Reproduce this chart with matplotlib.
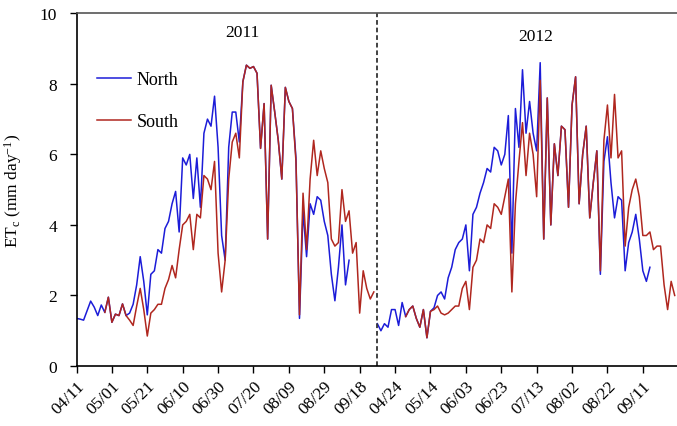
import matplotlib
matplotlib.use("Agg")
import matplotlib.pyplot as plt
import numpy as np

# daily ETc read every 2nd day, positions are days counted from 04/11/2011
step = 2
season_break = 169.6

north_2011_start = 0
north_2011 = [1.35, 1.33, 1.30, 1.57, 1.84, 1.67, 1.43, 1.73, 1.52, 1.95,
              1.24, 1.47, 1.43, 1.76, 1.43, 1.50, 1.75, 2.30, 3.10, 2.40,
              1.45, 2.60, 2.70, 3.30, 3.20, 3.90, 4.10, 4.60, 4.95, 3.80,
              5.90, 5.70, 6.00, 4.75, 5.90, 4.50, 6.60, 7.00, 6.80, 7.65,
              6.20, 3.70, 3.00, 6.20, 7.20, 7.20, 6.35, 8.06, 8.53, 8.44,
              8.49, 8.30, 6.17, 7.44, 3.60, 7.96, 7.20, 6.40, 5.30, 7.90,
              7.50, 7.30, 5.90, 1.35, 4.40, 3.10, 4.60, 4.30, 4.80, 4.70,
              4.10, 3.70, 2.60, 1.85, 2.80, 4.00, 2.30, 3.00]

south_2011_start = 16
south_2011 = [1.52, 1.95, 1.24, 1.47, 1.43, 1.76, 1.43, 1.30, 1.15, 1.70,
              2.20, 1.60, 0.85, 1.50, 1.60, 1.75, 1.75, 2.20, 2.45, 2.85,
              2.50, 3.30, 4.00, 4.10, 4.30, 3.30, 4.30, 4.20, 5.40, 5.30,
              5.00, 5.80, 3.20, 2.10, 3.00, 5.30, 6.35, 6.60, 5.90, 8.06,
              8.53, 8.44, 8.49, 8.30, 6.17, 7.44, 3.60, 7.96, 7.20, 6.40,
              5.30, 7.90, 7.50, 7.30, 5.80, 1.45, 4.90, 3.30, 5.30, 6.40,
              5.40, 6.10, 5.60, 5.20, 3.60, 3.40, 3.50, 5.00, 4.10, 4.40,
              3.20, 3.50, 1.50, 2.70, 2.20, 1.90, 2.10]

north_2012_start = 170
north_2012 = [1.20, 1.00, 1.20, 1.10, 1.60, 1.60, 1.15, 1.80, 1.40, 1.60,
              1.70, 1.35, 1.10, 1.60, 0.80, 1.55, 1.65, 2.00, 2.10, 1.90,
              2.50, 2.80, 3.30, 3.50, 3.60, 4.00, 2.70, 4.30, 4.50, 4.90,
              5.20, 5.60, 5.50, 6.20, 6.10, 5.70, 6.00, 7.10, 3.20, 7.30,
              6.20, 8.40, 6.60, 7.50, 6.60, 6.10, 8.60, 3.60, 7.60, 4.00,
              6.30, 5.40, 6.80, 6.70, 4.50, 7.40, 8.20, 4.60, 6.00, 6.80,
              4.20, 5.20, 6.10, 2.60, 5.80, 6.50, 5.20, 4.20, 4.80, 4.70,
              2.70, 3.50, 3.80, 4.30, 3.60, 2.70, 2.40, 2.80]

south_2012_start = 186
south_2012 = [1.40, 1.60, 1.70, 1.35, 1.10, 1.60, 0.80, 1.55, 1.60, 1.70,
              1.50, 1.45, 1.50, 1.60, 1.70, 1.70, 2.20, 2.40, 1.60, 2.80,
              3.00, 3.60, 3.50, 4.00, 3.90, 4.60, 4.50, 4.30, 4.80, 5.30,
              2.10, 4.60, 5.80, 6.90, 5.40, 6.60, 6.00, 4.80, 8.10, 3.60,
              7.60, 4.00, 6.30, 5.40, 6.80, 6.70, 4.50, 7.40, 8.20, 4.60,
              6.00, 6.80, 4.20, 5.20, 6.10, 2.70, 6.40, 7.40, 5.90, 7.70,
              5.90, 6.10, 3.40, 4.50, 5.00, 5.30, 4.80, 3.70, 3.70, 3.80,
              3.30, 3.40, 3.40, 2.30, 1.60, 2.40, 2.00]

tick_days = [0, 20, 40, 60, 80, 100, 120, 140, 160,
             180, 200, 220, 240, 260, 280, 300, 320]
tick_labels = ["04/11", "05/01", "05/21", "06/10", "06/30", "07/20", "08/09",
               "08/29", "09/18", "04/24", "05/14", "06/03", "06/23", "07/13",
               "08/02", "08/22", "09/11"]

north_color = "#1c1cd8"
south_color = "#b0271f"

plt.rcParams["font.family"] = ["Liberation Serif", "DejaVu Serif"]
plt.rcParams["mathtext.default"] = "regular"


def days(start, vals):
    return start + step * np.arange(len(vals))


fig = plt.figure(figsize=(6.77, 4.27), dpi=100)
ax = fig.add_axes([0.113, 0.1405, 0.887, 0.826])

ax.plot(days(north_2011_start, north_2011), north_2011, color=north_color, lw=1.1, label="North")
ax.plot(days(north_2012_start, north_2012), north_2012, color=north_color, lw=1.1)
ax.plot(days(south_2011_start, south_2011), south_2011, color=south_color, lw=1.1, label="South")
ax.plot(days(south_2012_start, south_2012), south_2012, color=south_color, lw=1.1)

ax.axvline(season_break, color="#333333", lw=1.3, ls=(0, (2.6, 1.6)))

ax.text(93.5, 9.47, "2011", ha="center", va="center", fontsize=12.5)
ax.text(259.6, 9.36, "2012", ha="center", va="center", fontsize=12.5)

ax.set_xlim(0, 339.3)
ax.set_ylim(0, 10)
ax.set_yticks(range(0, 11, 2))
ax.set_xticks(tick_days)
ax.set_xticklabels(tick_labels, rotation=45, ha="right", rotation_mode="anchor")
ax.tick_params(direction="out", length=5, width=1, labelsize=12.5)
ax.tick_params(axis="y", pad=9)
ax.set_ylabel("ET$_c$ (mm day$^{-1}$)", fontsize=12.5)
ax.yaxis.set_label_coords(-0.088, 0.5)

ax.spines["right"].set_visible(False)
ax.spines["top"].set_color("#555555")
for s in ["top", "left", "bottom"]:
    ax.spines[s].set_linewidth(1.2)

ax.legend(loc="upper left", bbox_to_anchor=(0.034, 0.836), frameon=False,
          fontsize=13, handlelength=1.9, handletextpad=0.3,
          labelspacing=1.4, borderpad=0, borderaxespad=0)

fig.savefig("out.png", dpi=100)
